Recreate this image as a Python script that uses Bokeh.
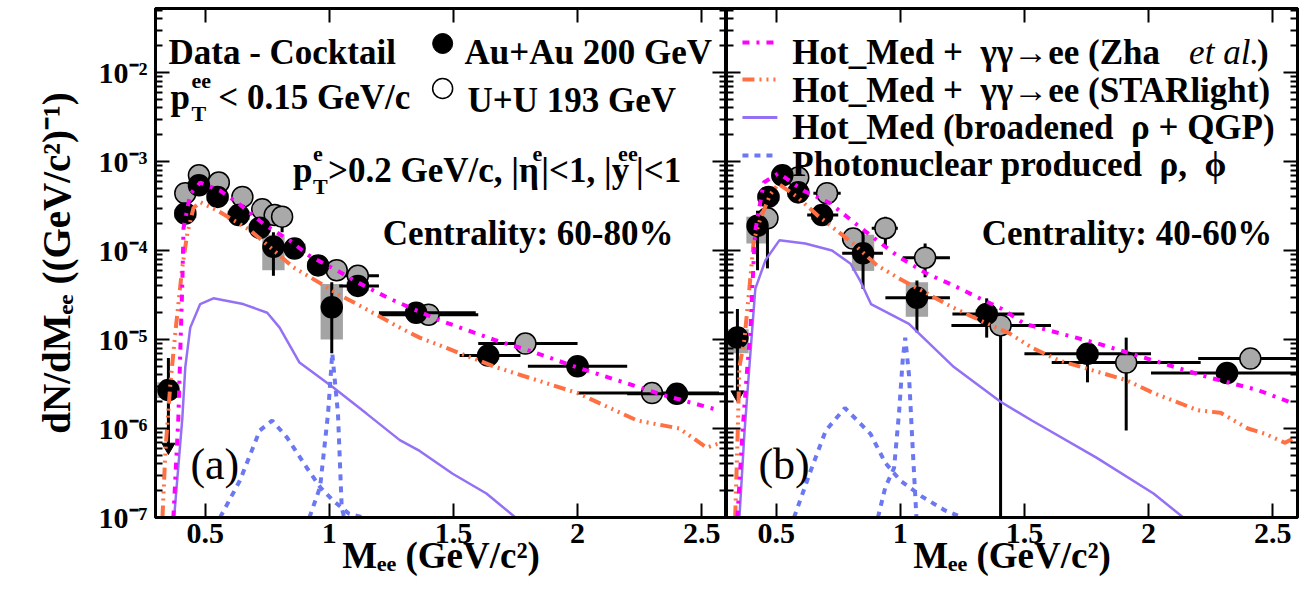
from bokeh.plotting import figure
from bokeh.layouts import row
from bokeh.models import (Range1d, FixedTicker, LinearAxis, LogAxis, Label,
                          CustomJSTickFormatter)
from bokeh.embed import file_html
from bokeh.resources import INLINE

SERIF = "Liberation Serif"
SP = "\u00a0"  # extra (non-collapsing) space

# ---------------- panel (a): centrality 60-80 % ----------------
# Au+Au 200 GeV (filled)
au_a_x   = [0.352, 0.42, 0.475, 0.55, 0.635, 0.72, 0.775, 0.86, 0.955, 1.01, 1.115, 1.35, 1.64, 2.00, 2.40]
au_a_y   = [2.7e-6, 2.6e-4, 5.4e-4, 4.0e-4, 2.5e-4, 1.8e-4, 1.1e-4, 1.05e-4, 6.8e-5, 2.3e-5, 4.0e-5, 2.0e-5, 6.6e-6, 5.0e-6, 2.45e-6]
au_a_ylo = [6.2e-7, 2.2e-4, 4.7e-4, 3.5e-4, 2.1e-4, 1.5e-4, 5.2e-5, 8.8e-5, 5.6e-5, 7.0e-6, 3.3e-5, 1.7e-5, 5.6e-6, 4.3e-6, 2.1e-6]
au_a_yhi = [6.2e-6, 3.0e-4, 6.2e-4, 4.6e-4, 2.9e-4, 2.2e-4, 1.6e-4, 1.25e-4, 8.0e-5, 4.4e-5, 4.8e-5, 2.3e-5, 7.6e-6, 5.7e-6, 2.8e-6]
au_a_xlo = [0.34, 0.40, 0.45, 0.52, 0.60, 0.69, 0.75, 0.83, 0.93, 0.99, 1.04, 1.20, 1.525, 1.80, 2.20]
au_a_xhi = [0.365, 0.44, 0.50, 0.58, 0.67, 0.75, 0.80, 0.89, 0.98, 1.03, 1.20, 1.59, 1.77, 2.20, 2.60]
au_a_slo = [2.2e-6, 2.3e-4, 4.8e-4, 3.6e-4, 2.2e-4, 1.6e-4, 6.0e-5, 9.3e-5, 6.0e-5, 1.0e-5, 3.5e-5, 1.8e-5, 5.9e-6, 4.5e-6, 2.2e-6]
au_a_shi = [3.3e-6, 2.9e-4, 6.0e-4, 4.4e-4, 2.8e-4, 2.0e-4, 1.5e-4, 1.2e-4, 7.6e-5, 4.2e-5, 4.5e-5, 2.2e-5, 7.3e-6, 5.5e-6, 2.7e-6]
# U+U 193 GeV (open)
uu_a_x   = [0.42, 0.475, 0.555, 0.65, 0.73, 0.78, 0.81, 1.03, 1.115, 1.40, 1.79, 2.30]
uu_a_y   = [4.4e-4, 7.0e-4, 5.8e-4, 4.0e-4, 2.9e-4, 2.5e-4, 2.4e-4, 6.0e-5, 5.2e-5, 1.9e-5, 9.0e-6, 2.5e-6]
uu_a_ylo = [3.8e-4, 6.1e-4, 5.0e-4, 3.4e-4, 2.4e-4, 1.9e-4, 1.6e-4, 4.6e-5, 4.3e-5, 1.6e-5, 7.8e-6, 2.0e-6]
uu_a_yhi = [5.1e-4, 8.0e-4, 6.7e-4, 4.7e-4, 3.4e-4, 3.0e-4, 3.0e-4, 7.4e-5, 6.2e-5, 2.2e-5, 1.05e-5, 3.0e-6]
uu_a_xlo = [0.40, 0.45, 0.53, 0.62, 0.70, 0.76, 0.79, 1.00, 1.04, 1.20, 1.60, 2.00]
uu_a_xhi = [0.44, 0.50, 0.58, 0.68, 0.76, 0.80, 0.84, 1.06, 1.20, 1.60, 2.00, 2.57]
# model curves
zha_a_x  = [0.372, 0.392, 0.40, 0.408, 0.413, 0.44, 0.48, 0.56, 0.633, 0.734, 0.84, 0.92, 1.03, 1.12, 1.24, 1.43, 1.67, 1.806, 1.995, 2.34, 2.57]
zha_a_y  = [1e-7, 1.3e-6, 7.5e-6, 4.3e-5, 1.8e-4, 4.3e-4, 5.8e-4, 4.7e-4, 3.4e-4, 2.0e-4, 1.3e-4, 8.7e-5, 6.0e-5, 4.3e-5, 2.9e-5, 1.7e-5, 9.8e-6, 7.5e-6, 4.9e-6, 2.4e-6, 1.6e-6]
star_a_x = [0.328, 0.34, 0.36, 0.38, 0.408, 0.428, 0.453, 0.48, 0.55, 0.68, 0.79, 0.854, 0.963, 1.03, 1.135, 1.284, 1.364, 1.67, 2.0, 2.24, 2.41, 2.52, 2.57]
star_a_y = [1e-7, 5.6e-7, 3.2e-6, 1.2e-5, 6.5e-5, 1.55e-4, 3.0e-4, 3.5e-4, 2.8e-4, 1.7e-4, 9.3e-5, 6.5e-5, 4.3e-5, 3.3e-5, 2.3e-5, 1.36e-5, 1.05e-5, 4.9e-6, 2.5e-6, 1.23e-6, 1.0e-6, 6.1e-7, 6.8e-7]
hot_a_x  = [0.375, 0.408, 0.42, 0.44, 0.48, 0.533, 0.653, 0.75, 0.80, 0.88, 1.015, 1.15, 1.284, 1.364, 1.497, 1.633, 1.75]
hot_a_y  = [1e-7, 1.3e-6, 4.9e-6, 1.36e-5, 2.5e-5, 2.9e-5, 2.5e-5, 2.0e-5, 1.36e-5, 5.5e-6, 2.9e-6, 1.47e-6, 7.4e-7, 5.6e-7, 3.1e-7, 1.86e-7, 1.0e-7]
rho_a_x  = [0.56, 0.64, 0.72, 0.77, 0.83, 0.91, 0.963, 1.015, 1.08, 1.14]
rho_a_y  = [1e-7, 2.6e-7, 9.5e-7, 1.23e-6, 7.9e-7, 3.6e-7, 2.2e-7, 1.55e-7, 1.1e-7, 1e-7]
phi_a_x  = [0.92, 0.963, 0.995, 1.012, 1.035, 1.05, 1.06]
phi_a_y  = [1e-7, 2.2e-7, 1.47e-6, 7.0e-6, 1.47e-6, 1.3e-7, 1e-7]

# ---------------- panel (b): centrality 40-60 % ----------------
au_b_x   = [0.344, 0.425, 0.469, 0.525, 0.589, 0.685, 0.85, 1.067, 1.348, 1.754, 2.316]
au_b_y   = [1.05e-5, 1.9e-4, 4.0e-4, 7.0e-4, 4.5e-4, 2.5e-4, 9.3e-5, 2.95e-5, 1.94e-5, 6.9e-6, 4.2e-6]
au_b_ylo = [2.4e-6, 6.0e-5, 3.4e-4, 6.2e-4, 3.4e-4, 2.1e-4, 3.7e-5, 1.2e-5, 1.05e-5, 3.3e-6, 3.6e-6]
au_b_yhi = [2.2e-5, 2.8e-4, 4.7e-4, 7.8e-4, 5.4e-4, 3.0e-4, 1.66e-4, 4.6e-5, 2.9e-5, 9.1e-6, 4.8e-6]
au_b_xlo = [0.33, 0.40, 0.45, 0.50, 0.56, 0.625, 0.766, 0.94, 1.21, 1.50, 2.01]
au_b_xhi = [0.36, 0.45, 0.49, 0.55, 0.62, 0.75, 0.93, 1.20, 1.50, 2.01, 2.60]
au_b_slo = [7.0e-6, 1.2e-4, 3.6e-4, 6.3e-4, 4.0e-4, 2.2e-4, 5.9e-5, 1.8e-5, 1.7e-5, 6.1e-6, 3.8e-6]
au_b_shi = [1.3e-5, 2.4e-4, 4.4e-4, 7.7e-4, 5.0e-4, 2.8e-4, 1.5e-4, 4.4e-5, 2.2e-5, 7.8e-6, 4.6e-6]
uu_b_x   = [0.465, 0.589, 0.705, 0.81, 0.94, 1.10, 1.404, 1.91, 2.41]
uu_b_y   = [2.3e-4, 6.6e-4, 4.4e-4, 1.36e-4, 1.78e-4, 8.3e-5, 1.44e-5, 5.5e-6, 6.1e-6]
uu_b_ylo = [6.3e-5, 5.8e-4, 3.9e-4, 1.1e-4, 1.1e-4, 5.0e-5, 5e-8, 9.5e-7, 5.3e-6]
uu_b_yhi = [3.2e-4, 7.6e-4, 5.1e-4, 1.6e-4, 2.4e-4, 1.2e-4, 1.9e-5, 1.05e-5, 7.0e-6]
uu_b_xlo = [0.45, 0.57, 0.65, 0.78, 0.885, 1.01, 1.206, 1.61, 2.20]
uu_b_xhi = [0.48, 0.61, 0.76, 0.84, 0.99, 1.20, 1.607, 2.21, 2.60]
zha_b_x  = [0.344, 0.364, 0.384, 0.396, 0.405, 0.415, 0.45, 0.51, 0.61, 0.718, 0.81, 0.906, 0.999, 1.107, 1.21, 1.32, 1.41, 1.50, 1.79, 2.02, 2.25, 2.44, 2.585]
zha_b_y  = [1e-7, 8.7e-7, 4.9e-6, 1.2e-5, 4.3e-5, 1.6e-4, 5.8e-4, 7.4e-4, 4.7e-4, 3.4e-4, 2.1e-4, 1.3e-4, 8.3e-5, 5.5e-5, 4.1e-5, 2.9e-5, 2.2e-5, 1.5e-5, 9.1e-6, 5.8e-6, 3.7e-6, 2.7e-6, 1.9e-6]
star_b_x = [0.335, 0.345, 0.352, 0.372, 0.392, 0.41, 0.437, 0.477, 0.51, 0.585, 0.665, 0.81, 0.906, 1.01, 1.107, 1.21, 1.33, 1.44, 1.53, 1.64, 1.91, 2.02, 2.20, 2.29, 2.40, 2.47, 2.55, 2.585]
star_b_y = [1e-7, 8.7e-7, 4.9e-6, 1.0e-5, 3.7e-5, 1.3e-4, 2.3e-4, 4.3e-4, 5.6e-4, 4.0e-4, 2.5e-4, 1.2e-4, 6.8e-5, 4.6e-5, 3.3e-5, 2.3e-5, 1.6e-5, 1.17e-5, 8.1e-6, 5.8e-6, 3.5e-6, 2.5e-6, 1.6e-6, 1.5e-6, 1.0e-6, 8.7e-7, 6.9e-7, 7.8e-7]
hot_b_x  = [0.352, 0.372, 0.392, 0.416, 0.457, 0.513, 0.617, 0.725, 0.80, 0.838, 0.882, 1.035, 1.216, 1.404, 1.53, 1.79, 2.02, 2.14]
hot_b_y  = [1e-7, 8.7e-7, 4.9e-6, 3.7e-5, 7.8e-5, 1.3e-4, 1.2e-4, 1.0e-4, 7.1e-5, 4.6e-5, 2.5e-5, 1.5e-5, 4.9e-6, 2.0e-6, 1.23e-6, 4.7e-7, 1.86e-7, 1e-7]
rho_b_x  = [0.572, 0.64, 0.70, 0.777, 0.88, 0.94, 1.0, 1.09, 1.18, 1.25]
rho_b_y  = [1e-7, 3.4e-7, 9.5e-7, 1.7e-6, 8.7e-7, 4.1e-7, 2.6e-7, 1.7e-7, 1.2e-7, 1e-7]
phi_b_x  = [0.91, 0.94, 0.975, 0.995, 1.01, 1.02, 1.035, 1.05, 1.065]
phi_b_y  = [1e-7, 2.2e-7, 3.6e-7, 1.5e-6, 6.0e-6, 1.05e-5, 4.0e-6, 6.0e-7, 1e-7]

x_ticks = [0.5, 1.0, 1.5, 2.0, 2.5]
y_ticks = [1e-7, 1e-6, 1e-5, 1e-4, 1e-3, 1e-2]
y_minor = [k * d for d in [1e-7, 1e-6, 1e-5, 1e-4, 1e-3, 1e-2] for k in range(2, 10)]

# ---------------- layout helpers ----------------
X_MIN, X_MAX = 0.3, 2.6
A_L, B_L, PPX = 155, 726, 249.0
TOP_PX, BOT_PX, PPD = 8, 517, 89.0
Y_MIN = 1e-7
Y_MAX = 10 ** (-7 + (BOT_PX - TOP_PX) / PPD)

def ax_a(px): return X_MIN + (px - A_L) / PPX
def ax_b(px): return X_MIN + (px - B_L) / PPX
def ay(py): return 10 ** (-7 + (BOT_PX - py) / PPD)

C_ZHA, C_STAR, C_HOT, C_PHOTO = "#ff00ff", "#ff7043", "#9470f5", "#6b78f2"
D_ZHA, D_STAR, D_PHOTO = "7 7 3 7", "12 5 2 5 2 5 2 5", "6 6"

sup_fmt = CustomJSTickFormatter(code="""
const m = {'-':'\u207b','0':'\u2070','1':'\u00b9','2':'\u00b2','3':'\u00b3','4':'\u2074','5':'\u2075','6':'\u2076','7':'\u2077','8':'\u2078','9':'\u2079'};
const e = Math.round(Math.log10(tick));
return '10' + String(e).split('').map(c => m[c]).join('');
""")
x_fmt = CustomJSTickFormatter(code="return String(tick);")


def style_axis(axis, labels, minor):
    axis.axis_line_width = 3
    axis.axis_line_color = "black"
    axis.major_tick_in = 14
    axis.major_tick_out = 0
    axis.major_tick_line_width = 2
    axis.major_tick_line_color = "black"
    axis.minor_tick_in = 7
    axis.minor_tick_out = 0
    axis.minor_tick_line_width = 2
    axis.minor_tick_line_color = "black" if minor else None
    if labels:
        axis.major_label_text_font = SERIF
        axis.major_label_text_font_size = "30px"
        axis.major_label_text_font_style = "bold"
        axis.major_label_text_color = "black"
        axis.major_label_standoff = 8
    else:
        axis.major_label_text_font_size = "1px"
        axis.major_label_text_color = None
        axis.major_label_standoff = 0


def make_fig(width, left, right, left_labels):
    p = figure(width=width, height=590, x_range=Range1d(X_MIN, X_MAX),
               y_range=Range1d(Y_MIN, Y_MAX), y_axis_type="log",
               output_backend="svg", toolbar_location=None,
               min_border_left=left, min_border_right=right,
               min_border_top=TOP_PX, min_border_bottom=590 - BOT_PX,
               background_fill_color="white", border_fill_color="white")
    p.grid.visible = False
    p.outline_line_color = "black"
    p.outline_line_width = 3
    xa = p.xaxis[0]
    xa.ticker = FixedTicker(ticks=x_ticks, minor_ticks=[])
    xa.formatter = x_fmt
    style_axis(xa, True, False)
    xa.major_label_standoff = 6
    xa.axis_label = "M\u2091\u2091 (GeV/c\u00b2)"
    xa.axis_label_text_font = SERIF
    xa.axis_label_text_font_size = "37px"
    xa.axis_label_text_font_style = "bold"
    xa.axis_label_text_color = "black"
    xa.axis_label_standoff = -11
    ya = p.yaxis[0]
    ya.ticker = FixedTicker(ticks=y_ticks, minor_ticks=y_minor)
    ya.formatter = sup_fmt
    style_axis(ya, left_labels, True)
    if left_labels:
        ya.axis_label = "dN/dM\u2091\u2091 ((GeV/c\u00b2)\u207b\u00b9)"
        ya.axis_label_text_font = SERIF
        ya.axis_label_text_font_size = "39px"
        ya.axis_label_text_font_style = "bold"
        ya.axis_label_text_color = "black"
        ya.axis_label_standoff = 18
    top = LinearAxis(ticker=FixedTicker(ticks=x_ticks, minor_ticks=[]))
    style_axis(top, False, False)
    p.add_layout(top, "above")
    rgt = LogAxis(ticker=FixedTicker(ticks=y_ticks, minor_ticks=y_minor))
    style_axis(rgt, False, True)
    p.add_layout(rgt, "right")
    return p


def boxes(p, x, slo, shi):
    p.quad(left=[v - 0.045 for v in x], right=[v + 0.045 for v in x],
           bottom=slo, top=shi, fill_color="#9a9a9a", line_color=None, fill_alpha=0.9)


def points(p, x, y, ylo, yhi, xlo, xhi, fill, line_w):
    p.segment(x0=x, y0=ylo, x1=x, y1=yhi, line_color="black", line_width=3)
    p.segment(x0=xlo, y0=y, x1=xhi, y1=y, line_color="black", line_width=3)
    p.scatter(x=x, y=y, marker="circle", size=21, fill_color=fill,
              line_color="black", line_width=line_w)


def curves(p, zx, zy, sx, sy, hx, hy, rx, ry, fx, fy):
    p.line(hx, hy, line_color=C_HOT, line_width=2.5)
    p.line(rx, ry, line_color=C_PHOTO, line_width=4, line_dash=D_PHOTO)
    p.line(fx, fy, line_color=C_PHOTO, line_width=4, line_dash=D_PHOTO)
    p.line(sx, sy, line_color=C_STAR, line_width=4, line_dash=D_STAR)
    p.line(zx, zy, line_color=C_ZHA, line_width=4, line_dash=D_ZHA)


def lab(p, fx, px, py, text, size=35, style="bold"):
    p.add_layout(Label(x=fx(px), y=ay(py), text=text, text_font=SERIF,
                       text_font_size=f"{size}px", text_font_style=style,
                       text_baseline="alphabetic", text_align="left",
                       text_color="black"))


# ---------------- panel (a) ----------------
pa = make_fig(726, A_L, 0, True)
boxes(pa, au_a_x, au_a_slo, au_a_shi)
points(pa, uu_a_x, uu_a_y, uu_a_ylo, uu_a_yhi, uu_a_xlo, uu_a_xhi, "#a9a9a9", 1.5)
points(pa, au_a_x, au_a_y, au_a_ylo, au_a_yhi, au_a_xlo, au_a_xhi, "black", 1.5)
pa.scatter(x=[au_a_x[0]], y=[au_a_ylo[0]], marker="inverted_triangle", size=13,
           fill_color="black", line_color="black")
curves(pa, zha_a_x, zha_a_y, star_a_x, star_a_y, hot_a_x, hot_a_y,
       rho_a_x, rho_a_y, phi_a_x, phi_a_y)

lab(pa, ax_a, 168, 52, "Data - Cocktail")
pa.scatter(x=[ax_a(443)], y=[ay(43)], marker="circle", size=20, fill_color="black", line_color="black")
lab(pa, ax_a, 465, 52, "Au+Au 200 GeV")
lab(pa, ax_a, 170, 97, "p")
lab(pa, ax_a, 191, 80, "ee", 22)
lab(pa, ax_a, 191, 113, "T", 22)
lab(pa, ax_a, 218, 97, "< 0.15 GeV/c")
pa.scatter(x=[ax_a(443)], y=[ay(88)], marker="circle", size=20, fill_color="white", line_color="black", line_width=1.5)
lab(pa, ax_a, 468, 100, "U+U 193 GeV")
lab(pa, ax_a, 293, 170, "p")
lab(pa, ax_a, 313, 153, "e", 22)
lab(pa, ax_a, 313, 186, "T", 22)
lab(pa, ax_a, 328, 170, ">0.2 GeV/c, |\u03b7")
lab(pa, ax_a, 533, 153, "e", 22)
lab(pa, ax_a, 542, 170, "|<1, |y")
lab(pa, ax_a, 619, 153, "ee", 22)
lab(pa, ax_a, 637, 170, "|<1")
lab(pa, ax_a, 383, 233, "Centrality: 60-80%")
lab(pa, ax_a, 190, 464, "(a)", 44, "normal")

# ---------------- panel (b) ----------------
pb = make_fig(580, 0, 9, False)
boxes(pb, au_b_x, au_b_slo, au_b_shi)
points(pb, uu_b_x, uu_b_y, uu_b_ylo, uu_b_yhi, uu_b_xlo, uu_b_xhi, "#a9a9a9", 1.5)
points(pb, au_b_x, au_b_y, au_b_ylo, au_b_yhi, au_b_xlo, au_b_xhi, "black", 1.5)
pb.scatter(x=[au_b_x[0]], y=[au_b_ylo[0]], marker="inverted_triangle", size=13,
           fill_color="black", line_color="black")
curves(pb, zha_b_x, zha_b_y, star_b_x, star_b_y, hot_b_x, hot_b_y,
       rho_b_x, rho_b_y, phi_b_x, phi_b_y)

# legend (drawn by hand)
leg_rows = [(42, C_ZHA, D_ZHA, 4), (79, C_STAR, D_STAR, 4), (117, C_HOT, "solid", 3), (155, C_PHOTO, D_PHOTO, 4)]
for yy, col, dash, w in leg_rows:
    pb.line([ax_b(742), ax_b(777)], [ay(yy), ay(yy)], line_color=col, line_width=w, line_dash=dash)
lab(pb, ax_b, 792, 52, "Hot_Med +" + SP + " \u03b3\u03b3\u2192ee (Zha")
lab(pb, ax_b, 1190, 52, "et al.", 35, "italic")
lab(pb, ax_b, 1258, 52, ")")
lab(pb, ax_b, 792, 90, "Hot_Med +" + SP + " \u03b3\u03b3\u2192ee (STARlight)")
lab(pb, ax_b, 792, 127, "Hot_Med (broadened" + SP + " \u03c1 + QGP)")
lab(pb, ax_b, 792, 164, "Photonuclear produced" + SP + " \u03c1," + SP + " \u03d5")
lab(pb, ax_b, 982, 233, "Centrality: 40-60%")
lab(pb, ax_b, 758, 464, "(b)", 44, "normal")

layout = row(pa, pb)
open("out.html", "w").write(file_html(layout, INLINE))
